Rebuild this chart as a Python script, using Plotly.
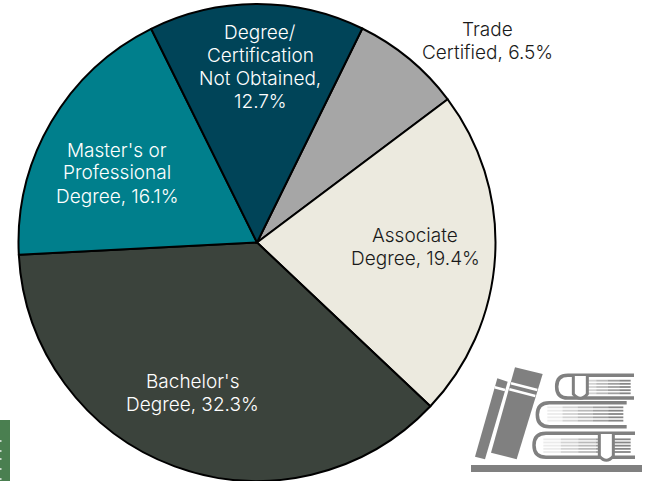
import plotly.graph_objects as go

categories = ["Trade Certified", "Associate Degree", "Bachelor's Degree",
              "Master's or Professional Degree", "Degree/ Certification Not Obtained"]
values = [6.5, 19.4, 32.3, 16.1, 12.7]
colors = ["#A6A6A6", "#ECEADF", "#3B433C", "#007F8C", "#004458"]
W, H = 654, 481
FONT = "Inter"
LINE_GAP = 23

fig = go.Figure(go.Pie(
    labels=categories, values=values, sort=False, direction="clockwise", rotation=26.2,
    textinfo="none", hoverinfo="label+percent",
    marker=dict(colors=colors, line=dict(color="#000000", width=2)),
    domain=dict(x=[18/W, 496/W], y=[0, 477/H]),
    showlegend=False,
))

labels = [
    (["Trade", "Certified, 6.5%"], 487, 41, "#1a1a1a"),
    (["Associate", "Degree, 19.4%"], 415, 247, "#1a1a1a"),
    (["Bachelor's", "Degree, 32.3%"], 192, 393, "#ffffff"),
    (["Master's or", "Professional", "Degree, 16.1%"], 117, 173, "#ffffff"),
    (["Degree/", "Certification", "Not Obtained,", "12.7%"], 260, 67, "#ffffff"),
]
annotations = []
for lines, x, y, c in labels:
    top = y - LINE_GAP*(len(lines)-1)/2
    for i, t in enumerate(lines):
        annotations.append(dict(text=t, x=x/W, y=1-(top+i*LINE_GAP)/H, xref="paper", yref="paper",
                                showarrow=False, xanchor="center", yanchor="middle", align="center",
                                font=dict(family=FONT, size=19, color=c, weight=300)))

GREY = "#808080"
def zx(x): return 460 + x/3
def zy(y): return 350 + y/3
def poly(pts, fill=GREY):
    d = "M " + " L ".join(f"{zx(x)/W:.5f} {1-zy(y)/H:.5f}" for x, y in pts) + " Z"
    return dict(type="path", path=d, xref="paper", yref="paper", fillcolor=fill, line=dict(width=0), layer="above")
def line(x0, y0, x1, y1, w=3, color=GREY, op=1):
    return dict(type="line", x0=zx(x0)/W, x1=zx(x1)/W, y0=1-zy(y0)/H, y1=1-zy(y1)/H,
                xref="paper", yref="paper", line=dict(color=color, width=w), opacity=op, layer="above")
def book(x0, x1, y0, y1):
    r = (y1-y0)/2
    d = (f"M {zx(x1)/W:.5f} {1-zy(y0)/H:.5f} L {zx(x0+r)/W:.5f} {1-zy(y0)/H:.5f} "
         f"Q {zx(x0)/W:.5f} {1-zy(y0)/H:.5f} {zx(x0)/W:.5f} {1-zy(y0+r)/H:.5f} "
         f"Q {zx(x0)/W:.5f} {1-zy(y1)/H:.5f} {zx(x0+r)/W:.5f} {1-zy(y1)/H:.5f} "
         f"L {zx(x1)/W:.5f} {1-zy(y1)/H:.5f}")
    return dict(type="path", path=d, xref="paper", yref="paper", line=dict(color=GREY, width=3.5), layer="above")
def pages(x0, x1, y0, y1, n=5):
    out = []
    step = (x1-x0)/5
    for i in range(n):
        y = y0 + (y1-y0)*i/(n-1)
        for k in range(5):
            out.append(line(x0+k*step, y, x0+(k+1)*step, y, w=1.8, op=0.15+0.2*k))
    return out
def ribbon(x0, x1, y0, y1, tip):
    xm = (x0+x1)/2
    d = (f"M {zx(x0)/W:.5f} {1-zy(y0)/H:.5f} L {zx(x0)/W:.5f} {1-zy(y1)/H:.5f} "
         f"Q {zx(xm)/W:.5f} {1-zy(tip)/H:.5f} {zx(x1)/W:.5f} {1-zy(y1)/H:.5f} L {zx(x1)/W:.5f} {1-zy(y0)/H:.5f}")
    return dict(type="path", path=d, xref="paper", yref="paper", fillcolor="#ffffff",
                line=dict(color=GREY, width=3), layer="above")

shapes = [
    dict(type="rect", x0=0, x1=10/W, y0=0, y1=1-420/H, xref="paper", yref="paper",
         fillcolor="#4A7F50", line=dict(width=0)),
    dict(type="rect", x0=471/W, x1=642/W, y0=1-472/H, y1=1-465/H, xref="paper", yref="paper",
         fillcolor=GREY, line=dict(width=0), layer="above"),
    poly([(165, 52), (248, 72), (170, 328), (93, 308)]),
    poly([(112, 85), (143, 95), (75, 328), (45, 320)]),
    line(153, 100, 232, 120, w=2.5, color="#ffffff"),
    line(148, 118, 226, 138, w=2.5, color="#ffffff"),
    line(104, 112, 135, 120, w=2.5, color="#ffffff"),
    book(290, 522, 76, 144),
    book(232, 500, 158, 230),
    book(222, 525, 250, 322),
]
shapes += pages(340, 512, 92, 130)
shapes += pages(262, 490, 172, 212)
shapes += pages(250, 512, 268, 306)
shapes += [ribbon(340, 382, 78, 132, 158), ribbon(418, 460, 252, 318, 344)]
for py in (440, 450, 458, 468, 478):
    shapes.append(dict(type="rect", x0=0, x1=1.5/W, y0=1-(py+2)/H, y1=1-py/H, xref="paper", yref="paper",
                       fillcolor="#C9D8CB", line=dict(width=0)))

fig.update_layout(width=W, height=H, margin=dict(l=0, r=0, t=0, b=0),
                  paper_bgcolor="#ffffff", plot_bgcolor="#ffffff",
                  annotations=annotations, shapes=shapes)
fig.write_html("out.html", config={"displayModeBar": False},
               post_script="document.body.style.margin='0';document.body.style.overflow='hidden';")
